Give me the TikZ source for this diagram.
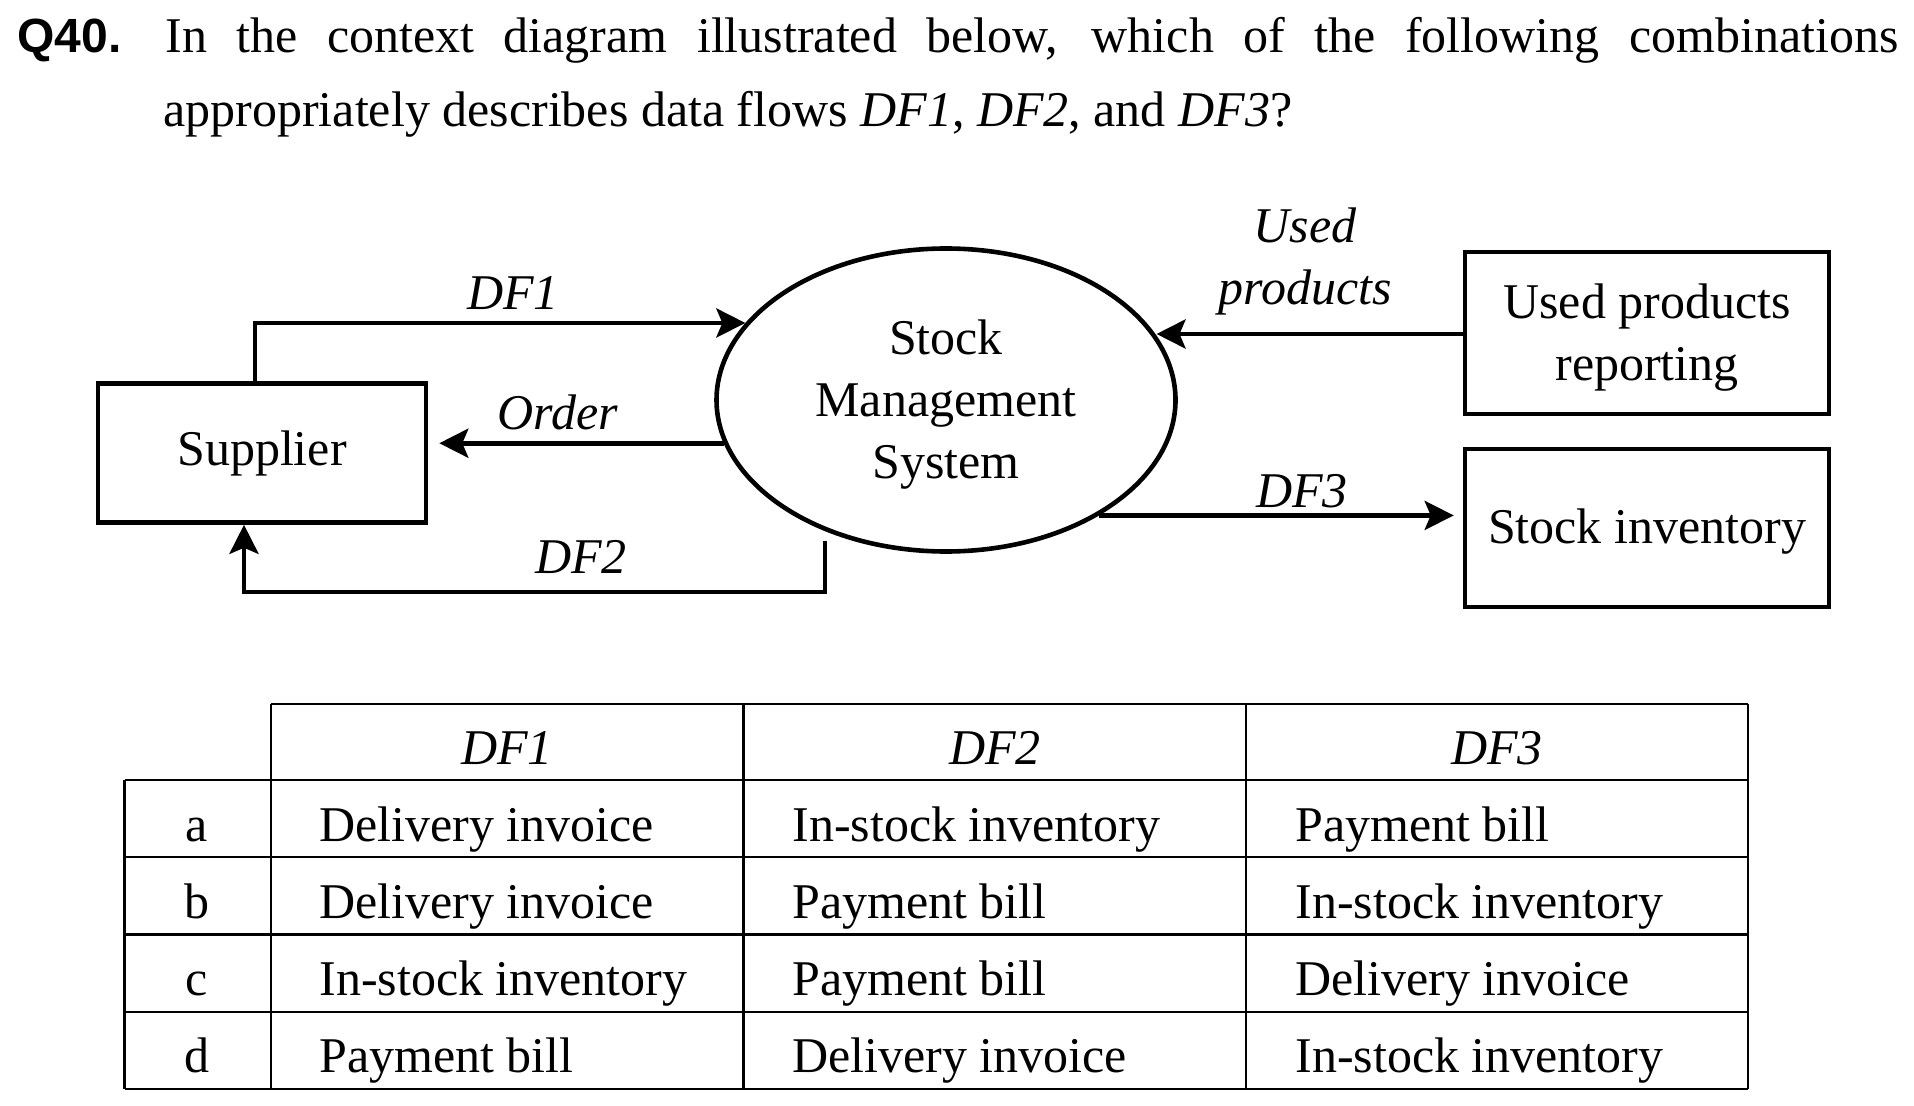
\documentclass[tikz,border=0pt]{standalone}
\usepackage{fontspec}
\setmainfont{Liberation Serif}
\newfontfamily\qnumfont{Liberation Sans}
\usetikzlibrary{shapes.geometric, arrows.meta, positioning, calc}

% raises the top of a first text line, so that the text sits lower in its node
\newcommand{\topstrut}[1]{\rule{0pt}{#1}}

\tikzset{
    % Node styles
    entitybox/.style={
        rectangle,
        draw=black,
        line width=2.3pt,
        minimum width=182pt,
        inner sep=0pt,
        align=center,
        font=\fontsize{25}{31}\selectfont
    },
    processbubble/.style={
        ellipse,
        draw=black,
        line width=2.3pt,
        minimum width=229.5pt,
        minimum height=151.5pt,
        inner sep=0pt,
        align=center,
        font=\fontsize{25}{31}\selectfont
    },
    flowlabel/.style={
        inner sep=0pt,
        align=center,
        font=\fontsize{25}{31}\selectfont\itshape
    },
    celltext/.style={
        inner sep=0pt,
        font=\fontsize{25}{31}\selectfont
    },
    headtext/.style={
        inner sep=0pt,
        anchor=base,
        font=\fontsize{25}{31}\selectfont\itshape
    },
    % Line styles
    flowarrow/.style={
        -{Stealth[length=14.5pt,width=14.5pt,inset=3pt]},
        line width=2.3pt,
        black
    },
    gridline/.style={
        line width=1.1pt,
        black
    }
}

\begin{document}
\begin{tikzpicture}[x=0.5pt, y=-0.5pt]
    \useasboundingbox (0,0) rectangle (1914,1106);

    % Question
    \node[anchor=base west, inner sep=0pt, font=\fontsize{24}{30}\selectfont\qnumfont\bfseries] (qnum) at (17,53) {Q40.};
    \node[celltext, anchor=base west] (qline1) at (165,53) {\makebox[866.5pt][s]{In the context diagram illustrated below, which of the following combinations}};
    \node[celltext, anchor=base west] (qline2) at (163,127) {appropriately describes data flows \textit{DF1}, \textit{DF2}, and \textit{DF3}?};

    % Context diagram
    \node[entitybox, minimum width=164pt, minimum height=69.5pt] (sup) at (262,453) {Supplier};
    \node[processbubble] (sms) at (946,400) {\topstrut{22pt}Stock\\Management\\System};
    \node[entitybox, minimum height=81pt] (upr) at (1647,333) {\topstrut{22pt}Used products\\reporting};
    \node[entitybox, minimum height=79pt] (inv) at (1647,528) {\topstrut{20.8pt}Stock inventory};
    \coordinate (df2s) at (825,541);

    \draw[flowarrow] ([xshift=-3.5pt]sup.north) |- (sms.159.7);
    \draw[flowarrow, shorten >=5.5pt] (sms.191.2) -- (sms.191.2 -| sup.east);
    \draw[flowarrow] (df2s) -- ++(0,51) -| ([xshift=-9pt]sup.south);
    \draw[flowarrow] ([yshift=-0.5pt]upr.west) -- ([yshift=-0.5pt]upr.west -| sms.17.6);
    \draw[flowarrow, shorten >=4.5pt] (sms.323.2) -- (sms.323.2 -| inv.west);

    \node[flowlabel] (df1lab) at (513,293) {DF1};
    \node[flowlabel] (ordlab) at (558,412) {Order};
    \node[flowlabel] (df2lab) at (581,557) {DF2};
    \node[flowlabel] (usedlab) at (1305,261) {Used\\products};
    \node[flowlabel] (df3lab) at (1302,491) {DF3};

    % Answer table
    \draw[gridline] (271,704) -- (1748,704);
    \foreach \y in {780,857.25,934.5,1011.75,1089}
        \draw[gridline] (124.5,\y) -- (1748,\y);
    \draw[gridline] (124.5,780) -- (124.5,1089);
    \foreach \x in {271,743.5,1246,1748}
        \draw[gridline] (\x,704) -- (\x,1089);

    \foreach \x/\h in {507/DF1, 995/DF2, 1497/DF3}
        \node[headtext] (head-\h) at (\x,764) {\h};

    \foreach \opt/\one/\two/\three [count=\r] in {a/Delivery invoice/In-stock inventory/Payment bill, b/Delivery invoice/Payment bill/In-stock inventory, c/In-stock inventory/Payment bill/Delivery invoice, d/Payment bill/Delivery invoice/In-stock inventory}{
        \pgfmathsetmacro{\yb}{841+(\r-1)*77.25}
        \node[celltext, anchor=base] (opt-\r) at (197,\yb) {\opt};
        \node[celltext, anchor=base west] (one-\r) at (319,\yb) {\one};
        \node[celltext, anchor=base west] (two-\r) at (792,\yb) {\two};
        \node[celltext, anchor=base west] (three-\r) at (1295,\yb) {\three};
    }
\end{tikzpicture}
\end{document}
